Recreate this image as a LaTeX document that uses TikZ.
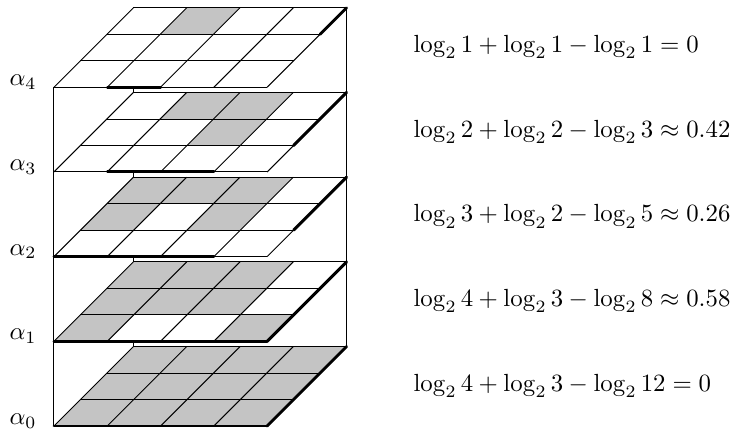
\documentclass[tikz,border=0pt]{standalone}
\usepackage{amsmath,amssymb}
\usepackage{tikz}
\usetikzlibrary{calc}
\usepackage{xcolor}
\definecolor{shade}{HTML}{C4C4C4}

\begin{document}
\begin{tikzpicture}[
    x={(0.755cm,0cm)}, y={(0.375cm,0.375cm)}, z={(0cm,1.2cm)},
    cell/.style={fill=shade},
    gridline/.style={line width=0.4pt, line join=round},
    marg/.style={line width=1.2pt, line cap=round},
    lbl/.style={anchor=east, inner sep=0pt, xshift=-6.8pt, yshift=2pt},
    eqn/.style={anchor=west, inner sep=0pt},
  ]
    \useasboundingbox (-0.765cm,-0.099cm) rectangle (9.593cm,6.036cm);
    % layer / shaded cells / front columns / right rows / equation
    \foreach \k/\cells/\fa/\fb/\ra/\rb/\eq in {
        0/{0/0,1/0,2/0,3/0,0/1,1/1,2/1,3/1,0/2,1/2,2/2,3/2}/0/4/0/3/{\log_2 4+\log_2 3-\log_2 12=0},
        1/{0/0,3/0,0/1,1/1,2/1,0/2,1/2,2/2}/0/4/0/3/{\log_2 4+\log_2 3-\log_2 8\approx 0.58},
        2/{0/1,2/1,0/2,1/2,2/2}/0/3/1/3/{\log_2 3+\log_2 2-\log_2 5\approx 0.26},
        3/{2/1,1/2,2/2}/1/3/1/3/{\log_2 2+\log_2 2-\log_2 3\approx 0.42},
        4/{1/2}/1/2/2/3/{\log_2 1+\log_2 1-\log_2 1=0}} {
      % posts up from the layer below
      \ifnum\k>0
        \pgfmathtruncatemacro{\kb}{\k-1}
        \draw[gridline] (0,0,\kb) -- (0,0,\k);
        \draw[gridline] (0,3,\kb) -- (0,3,\k);
        \draw[gridline] (4,3,\kb) -- (4,3,\k);
      \fi
      \fill[white] (0,0,\k) -- (4,0,\k) -- (4,3,\k) -- (0,3,\k) -- cycle;
      \foreach \c/\r in \cells
        \fill[cell] (\c,\r,\k) -- ++(1,0,0) -- ++(0,1,0) -- ++(-1,0,0) -- cycle;
      \foreach \i in {0,...,4}
        \draw[gridline] (\i,0,\k) -- (\i,3,\k);
      \foreach \j in {0,...,3}
        \draw[gridline] (0,\j,\k) -- (4,\j,\k);
      \draw[marg] (\fa,0,\k) -- (\fb,0,\k);
      \draw[marg] (4,\ra,\k) -- (4,\rb,\k);
      \node[lbl] (a\k) at (0,0,\k) {$\alpha_{\k}$};
      \node[eqn] (e\k) at ($(0,0,\k)+(5.087cm,0.57cm)$) {$\eq$};
    }
  \end{tikzpicture}
\end{document}
